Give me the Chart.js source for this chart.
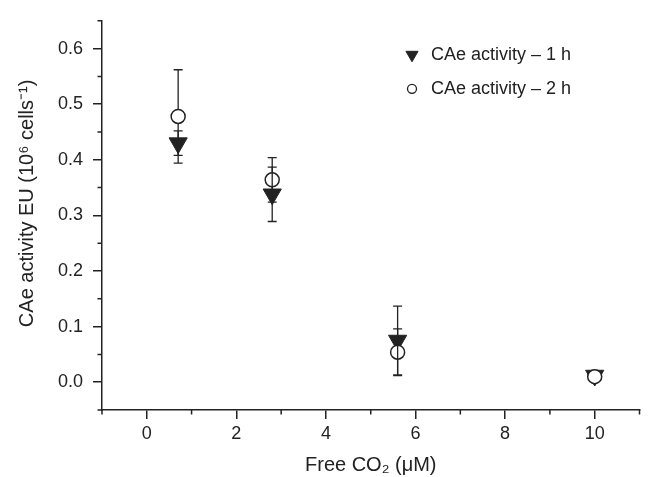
<!DOCTYPE html>
<html>
<head>
<meta charset="utf-8">
<script src="https://cdn.jsdelivr.net/npm/chart.js@4.4.1/dist/chart.umd.min.js"></script>
<style>
    html, body { margin: 0; padding: 0; background: #fff; }
    #wrap { width: 651px; height: 477px; }
</style>
</head>
<body>
<div id="wrap"><canvas id="graficoCanvas" width="651" height="477"></canvas></div>
<script>
// valores
const co2 = [0.7, 2.8, 5.6, 10];
const activity1h = [0.430, 0.338, 0.075, 0.012];
const error1h = [0.022, 0.049, 0.062, 0];
const activity2h = [0.478, 0.364, 0.054, 0.010];
const error2h = [0.084, 0.040, 0.042, 0.003];

const xTicks = [0, 2, 4, 6, 8, 10];
const xMinorTicks = [-1, 1, 3, 5, 7, 9, 11];
const yTicks = [0, 0.1, 0.2, 0.3, 0.4, 0.5, 0.6];
const yMinorTicks = [-0.05, 0.05, 0.15, 0.25, 0.35, 0.45, 0.55, 0.65];

const legendLabels = ['CAe activity \u2013 1 h', 'CAe activity \u2013 2 h'];
const yTitle = 'CAe activity EU (10\u2076 cells\u207b\u00b9)';
const xTitle = 'Free CO\u2082 (\u03bcM)';

const ink = '#222';
const fontFamily = "'Liberation Sans', Arial, Helvetica, sans-serif";
Chart.defaults.font.family = fontFamily;
Chart.defaults.color = ink;

function drawErrorBars(chart, index) {
    const ds = chart.data.datasets[index];
    const meta = chart.getDatasetMeta(index);
    const y = chart.scales.y;
    const ctx = chart.ctx;
    ctx.save();
    ctx.strokeStyle = ink;
    ctx.lineWidth = 1.3;
    meta.data.forEach((pt, i) => {
        const v = ds.data[i].y;
        const e = ds.errors[i];
        if (!e) return;
        const top = y.getPixelForValue(v + e);
        const bot = y.getPixelForValue(v - e);
        ctx.beginPath();
        ctx.moveTo(pt.x, top);
        ctx.lineTo(pt.x, bot);
        ctx.moveTo(pt.x - 4.5, top);
        ctx.lineTo(pt.x + 4.5, top);
        ctx.moveTo(pt.x - 4.5, bot);
        ctx.lineTo(pt.x + 4.5, bot);
        ctx.stroke();
    });
    ctx.restore();
}

const errorBarPlugin = {
    id: 'errorBars',
    beforeDatasetDraw(chart, args) {
        if (!chart.data.datasets[args.index].barsOnTop) drawErrorBars(chart, args.index);
    },
    afterDatasetsDraw(chart) {
        chart.data.datasets.forEach((ds, i) => {
            if (ds.barsOnTop) drawErrorBars(chart, i);
        });
    }
};

const minorTickPlugin = {
    id: 'minorTicks',
    afterDraw(chart) {
        const ctx = chart.ctx;
        const { x, y } = chart.scales;
        const area = chart.chartArea;
        ctx.save();
        ctx.strokeStyle = ink;
        ctx.lineWidth = 1.5;
        ctx.beginPath();
        xMinorTicks.forEach(v => {
            const px = x.getPixelForValue(v);
            ctx.moveTo(px, area.bottom);
            ctx.lineTo(px, area.bottom + 4.5);
        });
        yMinorTicks.forEach(v => {
            const py = y.getPixelForValue(v);
            ctx.moveTo(area.left, py);
            ctx.lineTo(area.left - 4.5, py);
        });
        ctx.stroke();
        ctx.restore();
    }
};

// título do eixo y (um pouco acima do centro, como no original)
const yTitlePlugin = {
    id: 'yTitle',
    afterDraw(chart) {
        const ctx = chart.ctx;
        const area = chart.chartArea;
        ctx.save();
        ctx.translate(27, (area.top + area.bottom) / 2 - 12);
        ctx.rotate(-Math.PI / 2);
        ctx.fillStyle = ink;
        ctx.font = '20px ' + fontFamily;
        ctx.textAlign = 'center';
        ctx.textBaseline = 'middle';
        ctx.fillText(yTitle, 0, 0);
        ctx.restore();
    }
};

const legendPlugin = {
    id: 'insideLegend',
    afterDraw(chart) {
        const ctx = chart.ctx;
        const area = chart.chartArea;
        const mx = area.left + 310;
        const rows = [area.top + 34, area.top + 68];
        const markers = [
            { pointStyle: 'triangle', rotation: 180, radius: 7, borderWidth: 1, fill: ink },
            { pointStyle: 'circle', rotation: 0, radius: 4.5, borderWidth: 1.3, fill: '#fff' }
        ];
        ctx.save();
        markers.forEach((m, i) => {
            ctx.fillStyle = m.fill;
            ctx.strokeStyle = ink;
            ctx.lineWidth = m.borderWidth;
            Chart.helpers.drawPoint(ctx, m, mx, rows[i]);
        });
        ctx.fillStyle = ink;
        ctx.font = '18px ' + fontFamily;
        ctx.textBaseline = 'middle';
        ctx.textAlign = 'left';
        legendLabels.forEach((t, i) => ctx.fillText(t, mx + 19, rows[i]));
        ctx.restore();
    }
};

const ctx = document.getElementById('graficoCanvas').getContext('2d');
const currentChart = new Chart(ctx, {
    type: 'scatter',
    data: {
        datasets: [{
            label: legendLabels[0],
            data: co2.map((x, i) => ({ x: x, y: activity1h[i] })),
            errors: error1h,
            barsOnTop: true,
            pointStyle: 'triangle',
            rotation: 180,
            radius: 10.5,
            backgroundColor: ink,
            borderColor: ink,
            borderWidth: 1,
            order: 2
        }, {
            label: legendLabels[1],
            data: co2.map((x, i) => ({ x: x, y: activity2h[i] })),
            errors: error2h,
            barsOnTop: false,
            pointStyle: 'circle',
            radius: 7,
            backgroundColor: '#fff',
            borderColor: ink,
            borderWidth: 1.5,
            order: 1
        }]
    },
    options: {
        responsive: false,
        animation: false,
        events: [],
        layout: { padding: { top: 14, right: 8, left: 0, bottom: 0 } },
        plugins: {
            legend: { display: false },
            tooltip: { enabled: false }
        },
        scales: {
            x: {
                type: 'linear',
                min: -1,
                max: 11,
                afterBuildTicks: s => { s.ticks = xTicks.map(v => ({ value: v })); },
                afterFit: s => { s.height = 67; },
                ticks: { font: { size: 18 }, color: ink, padding: 4, maxRotation: 0, autoSkip: false },
                grid: { drawOnChartArea: false, tickLength: 9, color: ink, lineWidth: 1.5 },
                border: { color: ink, width: 1.5 },
                title: {
                    display: true,
                    text: xTitle,
                    font: { size: 20 },
                    color: ink,
                    padding: { top: 0, bottom: 0 }
                }
            },
            y: {
                min: -0.05,
                max: 0.65,
                afterBuildTicks: s => { s.ticks = yTicks.map(v => ({ value: v })); },
                afterFit: s => { s.width = 102; },
                ticks: { font: { size: 18 }, color: ink, padding: 10, callback: v => v.toFixed(1) },
                grid: { drawOnChartArea: false, tickLength: 9, color: ink, lineWidth: 1.5 },
                border: { color: ink, width: 1.5 }
            }
        }
    },
    plugins: [errorBarPlugin, minorTickPlugin, yTitlePlugin, legendPlugin]
});
</script>
</body>
</html>
